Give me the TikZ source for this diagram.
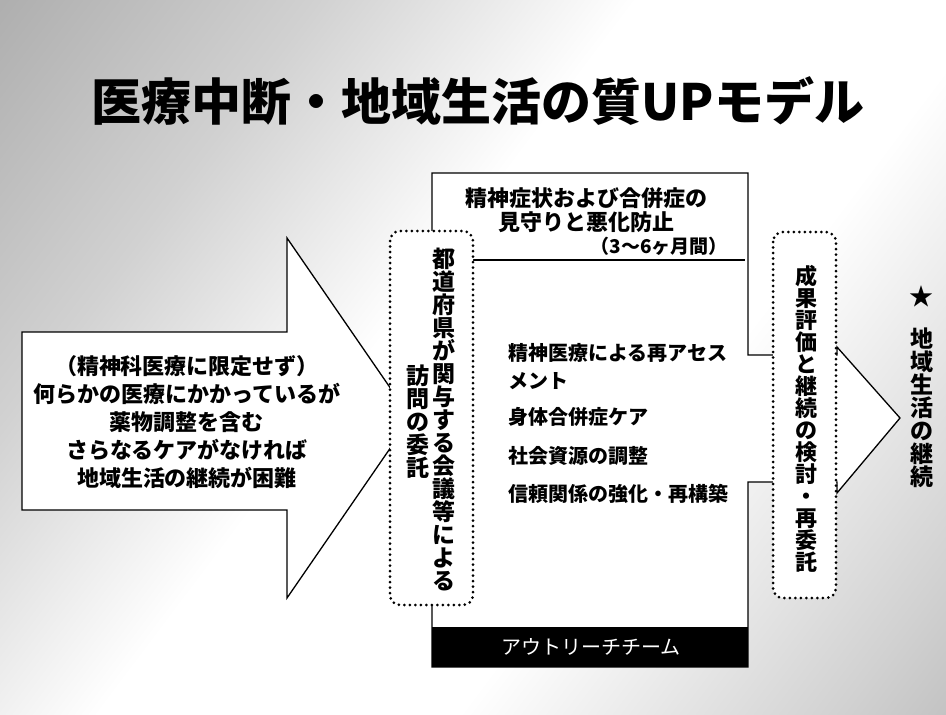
\documentclass[tikz,border=0pt]{standalone}
\usepackage{fontspec}
\newfontfamily\jp{Noto Sans CJK JP}
\pgfdeclarehorizontalshading{bgdiag}{100bp}{color(0bp)=(black!45); color(30bp)=(black!18); color(45bp)=(white); color(62bp)=(white); color(80bp)=(black!18); color(100bp)=(black!40)}
\tikzset{
  jpb/.style={font=\jp\bfseries\fontsize{#1}{#1}\selectfont, inner sep=0pt},
  jpb/.default=20,
  dotbox/.style={draw, fill=white, line width=3pt, dash pattern=on 0pt off 5.5pt, line cap=round, rounded corners=10pt},
  outline/.style={draw=black, fill=white, line width=1.3pt, line join=miter},
  vtext/.style={jpb=#1, align=center, text width=30pt},
}
\begin{document}
\begin{tikzpicture}[x=1pt,y=-1pt]
\useasboundingbox (0,0) rectangle (946,715);
\shade[shading=bgdiag, shading angle=-37] (0,0) rectangle (946,715);

% title
\node[jpb=50] (title) at (478,101) {医療中断・地域生活の質UPモデル};

% left big arrow
\draw[outline] (22,332) -- (287,332) -- (287,238) -- (411,418) -- (287,598) -- (287,510) -- (22,510) -- cycle;
\node[jpb=22, align=center, font=\jp\bfseries\fontsize{22}{28}\selectfont] (lefttext) at (187,422)
  {（精神科医療に限定せず）\\何らかの医療にかかっているが\\薬物調整を含む\\さらなるケアがなければ\\地域生活の継続が困難};

% outreach team box with arrow
\draw[outline] (432,173) -- (748,173) -- (748,355) -- (837,355) -- (837,347) -- (900,418)
  -- (837,493) -- (837,482) -- (748,482) -- (748,667) -- (432,667) -- cycle;
\fill[black] (432,627) rectangle (748,667);
\node[font=\jp\fontsize{20}{20}\selectfont, text=white, inner sep=0pt] (team) at (591,647) {アウトリーチチーム};
\coordinate (lineL) at (473,260);
\coordinate (lineR) at (745,260);
\draw[line width=1.4pt] (lineL) -- (lineR);

\node[jpb=22, align=center, font=\jp\bfseries\fontsize{22}{24}\selectfont] (watch) at (586,210)
  {精神症状および合併症の\\見守りと悪化防止};
\node[jpb=19, anchor=east] (period) at (728,246) {（3～6ヶ月間）};

\node[jpb=20, anchor=west] (i1) at (508,353) {精神医療による再アセス};
\node[jpb=20, anchor=west] (i1b) at (508,381) {メント};
\node[jpb=20, anchor=west] (i2) at (508,417) {身体合併症ケア};
\node[jpb=20, anchor=west] (i3) at (508,456) {社会資源の調整};
\node[jpb=20, anchor=west] (i4) at (508,494) {信頼関係の強化・再構築};

% left dotted box
\draw[dotbox] (390,231) rectangle (473,605);
\node[vtext=23] (colA) at (444,420) {都\\道\\府\\県\\が\\関\\与\\す\\る\\会\\議\\等\\に\\よ\\る};
\node[vtext=23] (colB) at (418,422) {訪\\問\\の\\委\\託};

% right dotted box
\draw[dotbox] (773,232) rectangle (836,598);
\node[vtext=22] (colR) at (806,419) {成\\果\\評\\価\\と\\継\\続\\の\\検\\討\\・\\再\\委\\託};

% far right
\node[jpb=24] (star) at (921,296) {★};
\node[vtext=23] (goal) at (922,408) {地\\域\\生\\活\\の\\継\\続};
\end{tikzpicture}
\end{document}
